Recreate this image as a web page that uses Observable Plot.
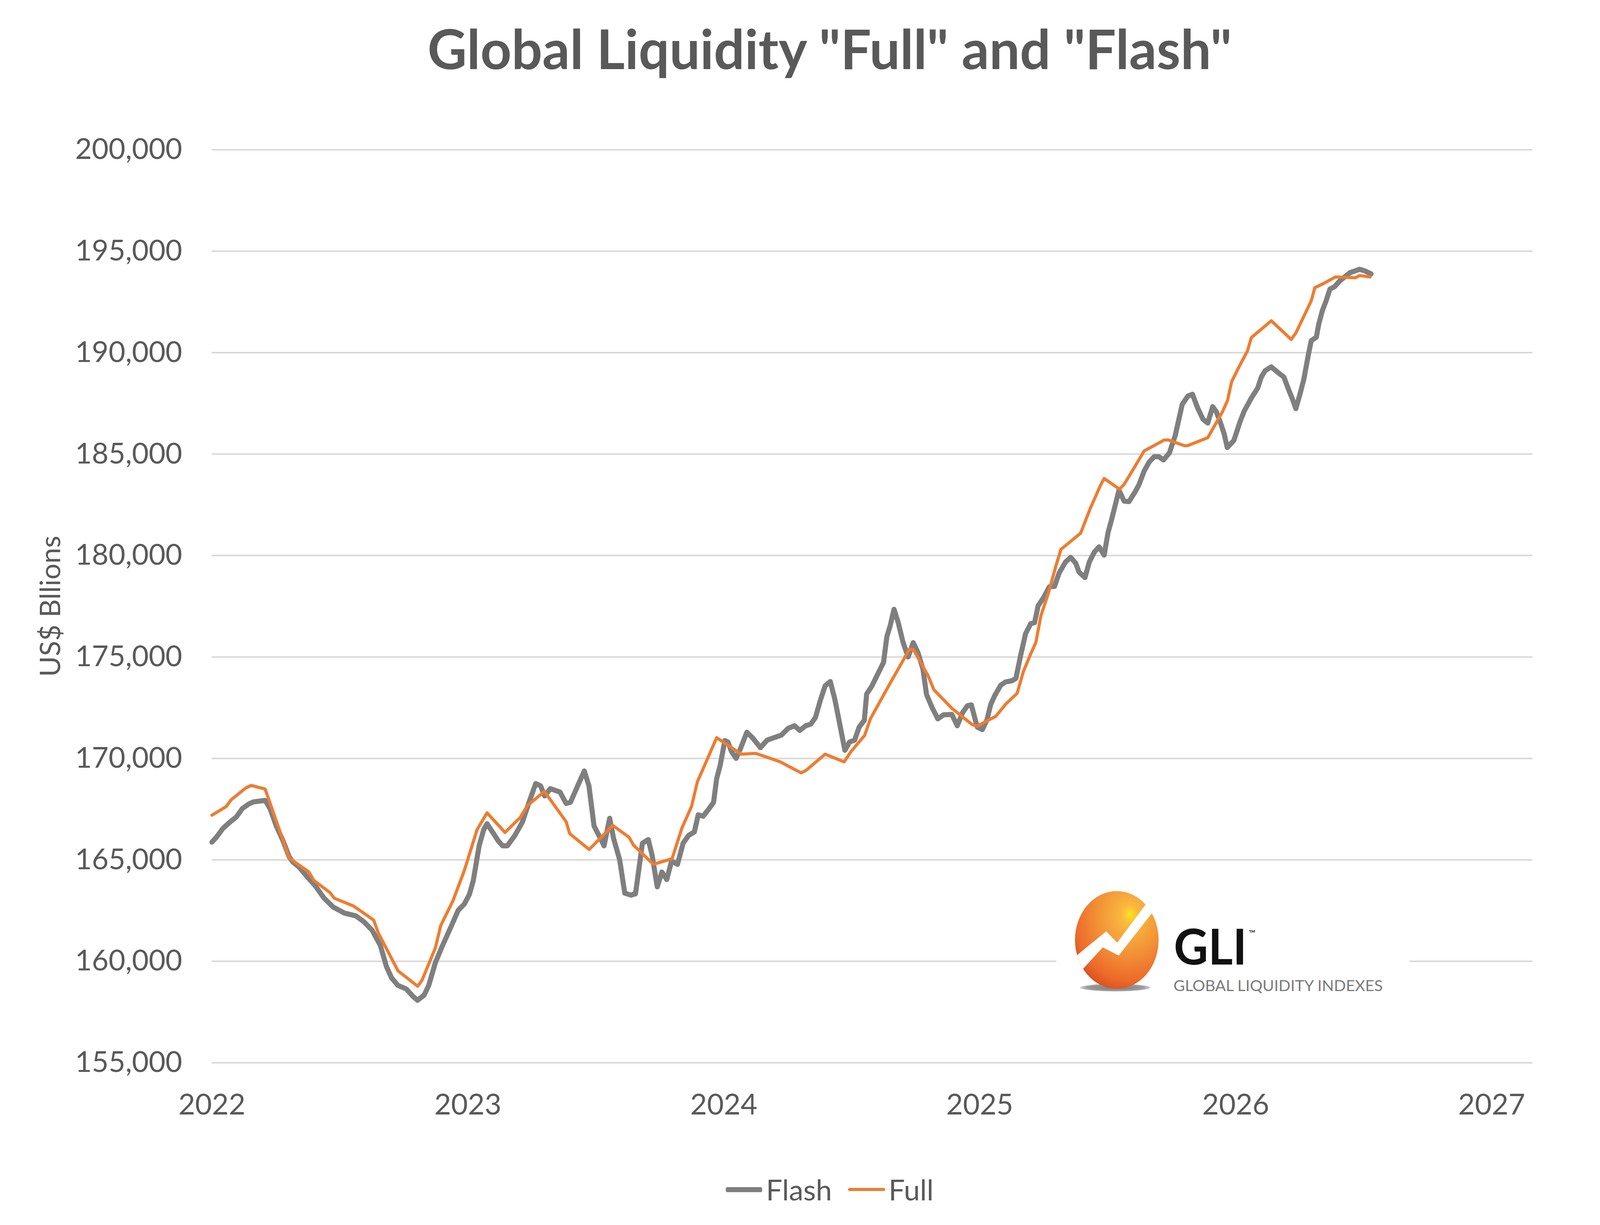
<!DOCTYPE html>
<html>
<head>
<meta charset="utf-8">
<script src="https://cdn.jsdelivr.net/npm/d3@7"></script>
<script src="https://cdn.jsdelivr.net/npm/@observablehq/plot@0.6"></script>
<style>
  html, body { margin: 0; padding: 0; background: #ffffff; }
  #page { position: relative; width: 4248px; height: 3137px; background: #fff; overflow: hidden; font-family: Lato, "Open Sans", sans-serif; }
  #title { position: absolute; left: 0; top: 54px; width: 4248px; text-align: center; font: 700 139px/139px Lato, "Open Sans", sans-serif; color: #595959; }
  #chart { position: absolute; left: 0; top: 300px; }
  #legend { position: absolute; left: 0; top: 3000px; width: 4248px; height: 92px; display: flex; align-items: center; justify-content: center; font: 400 74px/92px Lato, sans-serif; color: #595959; }
  .sw { display: inline-block; border-radius: 4px; }
  #logo { position: absolute; left: 0; top: 0; }
</style>
</head>
<body>
<div id="page">
  <div id="title">Global Liquidity &quot;Full&quot; and &quot;Flash&quot;</div>
  <div id="chart"></div>
  <div id="legend">
    <span class="sw" style="width:93px;height:13px;background:#7f7f7f;margin-right:10px"></span><span>Flash</span>
    <span class="sw" style="width:95px;height:8px;background:#ed7d31;margin-left:41px;margin-right:9px"></span><span>Full</span>
  </div>
  <svg id="logo" width="4248" height="3137" viewBox="0 0 4248 3137">
    <defs>
      <radialGradient id="egg" cx="0.64" cy="0.28" r="0.9" fx="0.66" fy="0.24">
        <stop offset="0" stop-color="#ffe21a"/>
        <stop offset="0.12" stop-color="#f9b73f"/>
        <stop offset="0.45" stop-color="#f28f36"/>
        <stop offset="0.72" stop-color="#ec6a2a"/>
        <stop offset="0.86" stop-color="#d9501f"/>
        <stop offset="1" stop-color="#7c3214"/>
      </radialGradient>
      <radialGradient id="shadow" cx="0.5" cy="0.5" r="0.5">
        <stop offset="0" stop-color="#7a7a7a"/>
        <stop offset="0.8" stop-color="#9a9a9a"/>
        <stop offset="1" stop-color="#d0d0d0"/>
      </radialGradient>
      <clipPath id="eggclip"><ellipse cx="2859" cy="2407" rx="107" ry="125"/></clipPath>
    </defs>
    <rect x="2704" y="2265" width="904" height="300" fill="#ffffff"/>
    <ellipse cx="2855" cy="2529" rx="90" ry="10" fill="url(#shadow)"/>
    <ellipse cx="2859" cy="2407" rx="107" ry="125" fill="url(#egg)"/>
    <g clip-path="url(#eggclip)">
      <polygon points="2740,2460 2832,2385 2860,2414 2945,2300 2965,2320 2950,2337 2864,2447 2823,2426 2760,2495" fill="#ffffff"/>
    </g>
    <text x="3005" y="2470" font-family="Lato, sans-serif" font-weight="700" font-size="126" fill="#111111" textLength="187" lengthAdjust="spacingAndGlyphs">GLI</text>
    <text x="3197" y="2398" font-family="Lato, sans-serif" font-size="22" fill="#111111">™</text>
    <text x="3004" y="2538" font-family="Lato, sans-serif" font-size="39" fill="#7a7a7a" textLength="536" lengthAdjust="spacingAndGlyphs">GLOBAL LIQUIDITY INDEXES</text>
  </svg>
</div>
<script>
// ---- data ----
const yearTicks = [2022, 2023, 2024, 2025, 2026, 2027];
const valueTicks = [155000, 160000, 165000, 170000, 175000, 180000, 185000, 190000, 195000, 200000];
const seriesNames = ["Flash", "Full"];

const flashYear = [2022.000, 2022.018, 2022.043, 2022.075, 2022.095, 2022.119, 2022.145, 2022.163, 2022.208, 2022.227,
  2022.252, 2022.278, 2022.302, 2022.316, 2022.340, 2022.372, 2022.404, 2022.437, 2022.473, 2022.517,
  2022.562, 2022.594, 2022.626, 2022.658, 2022.682, 2022.702, 2022.727, 2022.759, 2022.785, 2022.803,
  2022.829, 2022.847, 2022.873, 2022.897, 2022.936, 2022.962, 2022.986, 2023.006, 2023.021, 2023.044,
  2023.062, 2023.075, 2023.100, 2023.119, 2023.136, 2023.154, 2023.183, 2023.213, 2023.239, 2023.265,
  2023.284, 2023.300, 2023.322, 2023.360, 2023.384, 2023.401, 2023.429, 2023.455, 2023.473, 2023.493,
  2023.525, 2023.532, 2023.554, 2023.569, 2023.593, 2023.613, 2023.638, 2023.655, 2023.682, 2023.705,
  2023.720, 2023.740, 2023.758, 2023.777, 2023.796, 2023.819, 2023.841, 2023.862, 2023.885, 2023.900,
  2023.919, 2023.941, 2023.960, 2023.972, 2023.986, 2024.004, 2024.016, 2024.030, 2024.048, 2024.065,
  2024.090, 2024.112, 2024.143, 2024.169, 2024.207, 2024.225, 2024.251, 2024.276, 2024.297, 2024.320,
  2024.340, 2024.358, 2024.378, 2024.396, 2024.416, 2024.434, 2024.453, 2024.473, 2024.491, 2024.511,
  2024.529, 2024.549, 2024.558, 2024.579, 2024.605, 2024.624, 2024.637, 2024.650, 2024.665, 2024.682,
  2024.700, 2024.720, 2024.740, 2024.759, 2024.778, 2024.792, 2024.814, 2024.836, 2024.859, 2024.891,
  2024.912, 2024.933, 2024.952, 2024.967, 2024.990, 2025.010, 2025.028, 2025.043, 2025.059, 2025.082,
  2025.101, 2025.126, 2025.141, 2025.161, 2025.179, 2025.199, 2025.214, 2025.228, 2025.248, 2025.272,
  2025.292, 2025.310, 2025.335, 2025.355, 2025.375, 2025.388, 2025.411, 2025.428, 2025.448, 2025.466,
  2025.486, 2025.501, 2025.515, 2025.544, 2025.564, 2025.583, 2025.608, 2025.622, 2025.642, 2025.662,
  2025.681, 2025.700, 2025.718, 2025.741, 2025.764, 2025.779, 2025.791, 2025.813, 2025.831, 2025.851,
  2025.872, 2025.891, 2025.910, 2025.924, 2025.939, 2025.955, 2025.967, 2025.993, 2026.017, 2026.034,
  2026.061, 2026.086, 2026.100, 2026.115, 2026.139, 2026.168, 2026.188, 2026.206, 2026.222, 2026.235,
  2026.251, 2026.266, 2026.284, 2026.295, 2026.315, 2026.324, 2026.338, 2026.353, 2026.368, 2026.387,
  2026.406, 2026.446, 2026.484, 2026.504, 2026.529];

const flashValue = [165870, 166120, 166550, 166910, 167110, 167530, 167760, 167860, 167930, 167530,
  166660, 165930, 165150, 164900, 164650, 164170, 163720, 163130, 162680, 162380,
  162240, 161950, 161530, 160780, 159740, 159180, 158810, 158640, 158280, 158080,
  158330, 158810, 159930, 160660, 161760, 162510, 162820, 163300, 163970, 165690,
  166490, 166780, 166300, 165930, 165690, 165690, 166190, 166860, 167840, 168760,
  168650, 168150, 168510, 168340, 167780, 167840, 168650, 169380, 168650, 166670,
  165880, 165690, 167050, 166070, 165010, 163360, 163260, 163330, 165820, 166000,
  165210, 163670, 164400, 164030, 164950, 164780, 165820, 166200, 166380, 167220,
  167150, 167500, 167840, 169000, 169670, 170880, 170810, 170340, 170000, 170480,
  171290, 171020, 170530, 170900, 171070, 171150, 171480, 171610, 171380, 171610,
  171690, 172020, 172900, 173580, 173790, 172900, 171690, 170400, 170810, 170900,
  171550, 171880, 173170, 173580, 174250, 174730, 176000, 176540, 177350, 176670,
  175730, 175000, 175710, 175200, 174400, 173150, 172500, 171950, 172150, 172170,
  171610, 172260, 172600, 172640, 171550, 171420, 171900, 172670, 173110, 173610,
  173770, 173830, 173940, 175150, 176150, 176640, 176690, 177520, 177900, 178460,
  178480, 179140, 179680, 179910, 179620, 179180, 178910, 179680, 180180, 180430,
  180020, 181120, 181770, 183220, 182680, 182660, 183160, 183490, 184160, 184610,
  184870, 184870, 184710, 185060, 185930, 186780, 187450, 187860, 187950, 187280,
  186720, 186530, 187340, 187090, 186600, 185990, 185320, 185680, 186600, 187140,
  187760, 188260, 188800, 189110, 189300, 188990, 188800, 188200, 187700, 187240,
  187950, 188680, 189910, 190590, 190760, 191380, 192050, 192550, 193130, 193260,
  193530, 193940, 194110, 194030, 193880];

const fullYear = [2022.000, 2022.056, 2022.075, 2022.133, 2022.154, 2022.208, 2022.302, 2022.379, 2022.398, 2022.461,
  2022.478, 2022.554, 2022.632, 2022.650, 2022.727, 2022.804, 2022.821, 2022.873, 2022.894, 2022.942,
  2022.986, 2023.036, 2023.075, 2023.145, 2023.204, 2023.233, 2023.299, 2023.384, 2023.398, 2023.474,
  2023.566, 2023.630, 2023.647, 2023.725, 2023.798, 2023.836, 2023.874, 2023.897, 2023.916, 2023.972,
  2024.068, 2024.125, 2024.219, 2024.302, 2024.320, 2024.396, 2024.470, 2024.497, 2024.550, 2024.573,
  2024.650, 2024.726, 2024.741, 2024.798, 2024.821, 2024.891, 2024.970, 2024.990, 2025.063, 2025.101,
  2025.146, 2025.170, 2025.199, 2025.219, 2025.239, 2025.268, 2025.297, 2025.317, 2025.394, 2025.431,
  2025.472, 2025.486, 2025.546, 2025.564, 2025.604, 2025.642, 2025.720, 2025.736, 2025.800, 2025.813,
  2025.891, 2025.948, 2025.968, 2025.984, 2026.008, 2026.046, 2026.061, 2026.139, 2026.217, 2026.235,
  2026.295, 2026.309, 2026.348, 2026.390, 2026.468, 2026.484, 2026.525];

const fullValue = [167200, 167630, 167960, 168550, 168670, 168490, 165090, 164400, 163990, 163390,
  163110, 162720, 162030, 161400, 159530, 158770, 159070, 160660, 161760, 162990,
  164470, 166490, 167320, 166350, 167080, 167680, 168370, 166880, 166290, 165510,
  166700, 166110, 165730, 164780, 165060, 166560, 167640, 168860, 169400, 171020,
  170210, 170250, 169840, 169290, 169400, 170210, 169830, 170340, 171130, 171960,
  173710, 175400, 175360, 174080, 173380, 172470, 171670, 171590, 172080, 172670,
  173210, 174270, 175150, 175710, 177040, 178140, 179460, 180300, 181100, 182300,
  183470, 183800, 183270, 183510, 184340, 185150, 185690, 185700, 185410, 185420,
  185810, 187080, 187640, 188570, 189180, 190090, 190740, 191570, 190650, 190970,
  192550, 193200, 193440, 193730, 193690, 193800, 193730];

// ---- build tables ----
const flash = flashYear.slice(0, Math.min(flashYear.length, flashValue.length)).map((t, i) => ({t, v: flashValue[i], s: seriesNames[0]}));
const full = fullYear.slice(0, Math.min(fullYear.length, fullValue.length)).map((t, i) => ({t, v: fullValue[i], s: seriesNames[1]}));

const chart = Plot.plot({
  width: 4248,
  height: 2601,
  marginTop: 83,
  marginBottom: 180,
  marginLeft: 542,
  marginRight: 325,
  style: {fontFamily: "Lato, 'Open Sans', sans-serif", fontSize: "74px", color: "#595959", background: "transparent", overflow: "visible"},
  x: {type: "linear", domain: [2022, 2027.16], label: null},
  y: {domain: [155000, 200000], label: null},
  marks: [
    Plot.gridY(valueTicks, {stroke: "#d9d9d9", strokeWidth: 4, strokeOpacity: 1}),
    Plot.line(flash, {x: "t", y: "v", stroke: "#7f7f7f", strokeWidth: 13, strokeLinejoin: "round", strokeLinecap: "round", curve: "linear"}),
    Plot.line(full, {x: "t", y: "v", stroke: "#ed7d31", strokeWidth: 8, strokeLinejoin: "round", strokeLinecap: "round", curve: "linear"}),
    Plot.axisY(valueTicks, {tickSize: 0, tickPadding: 76, tickFormat: d3.format(","), fill: "#595959", label: null}),
    Plot.axisX(yearTicks, {tickSize: 0, tickPadding: 80, tickFormat: d => String(d), fill: "#595959", label: null}),
    Plot.text(["US$ Bllions"], {frameAnchor: "left", dx: -412, rotate: -90, textAnchor: "middle", lineAnchor: "middle", fontSize: 72, fill: "#595959", text: d => d})
  ]
});
document.getElementById("chart").appendChild(chart);
</script>
</body>
</html>
